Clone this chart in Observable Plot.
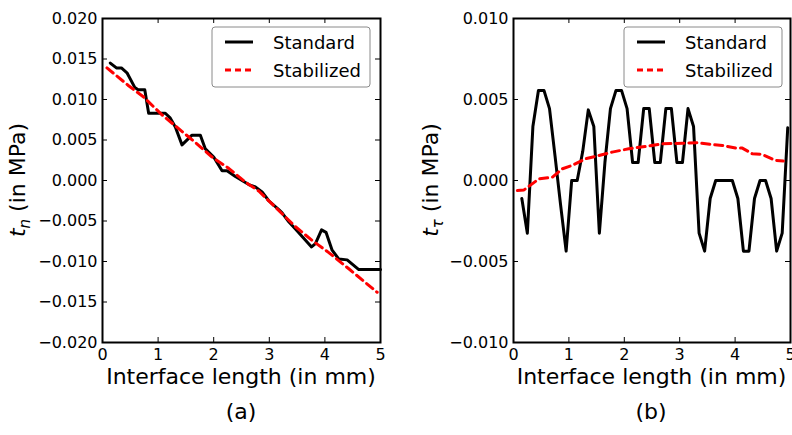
<!DOCTYPE html>
<html><head><meta charset="utf-8">
<script src="https://cdn.jsdelivr.net/npm/d3@7"></script>
<script src="https://cdn.jsdelivr.net/npm/@observablehq/plot@0.6"></script>
<style>
body{margin:0;background:#fff;font-family:"DejaVu Sans",sans-serif;}
#wrap{position:relative;width:792px;height:435px;overflow:hidden;background:#fff;}
.panel{position:absolute;top:0;}
.cap{position:absolute;top:399px;width:100px;text-align:center;font-size:22px;line-height:26px;font-family:"DejaVu Sans",sans-serif;color:#000;}
</style></head><body><div id="wrap"></div>
<script>
// ---------- data ----------
const xTicks = [0, 1, 2, 3, 4, 5];
const yTicksA = [0.020, 0.015, 0.010, 0.005, 0.000, -0.005, -0.010, -0.015, -0.020];
const yTicksB = [0.010, 0.005, 0.000, -0.005, -0.010];
const legendNames = ["Standard", "Stabilized"];
const xLabel = "Interface length (in mm)";
const captions = ["(a)", "(b)"];

// (a) normal traction t_n
const aStdX = [0.14, 0.25, 0.34, 0.44, 0.58, 0.64, 0.76, 0.83, 1.13, 1.22, 1.31, 1.43, 1.61, 1.76, 1.85, 2.00, 2.15, 2.24, 2.39, 2.63, 2.75, 2.87, 2.99, 3.17, 3.23, 3.35, 3.47, 3.76, 3.83, 3.94, 4.02, 4.13, 4.25, 4.40, 4.61, 5.00];
const aStdY = [0.0145, 0.0139, 0.0139, 0.0133, 0.0115, 0.0112, 0.0112, 0.0083, 0.0083, 0.0077, 0.0066, 0.0044, 0.0056, 0.0056, 0.0039, 0.0029, 0.0012, 0.0012, 0.0005, -0.0005, -0.0008, -0.0014, -0.0025, -0.0036, -0.0040, -0.0051, -0.0060, -0.0082, -0.0078, -0.0061, -0.0064, -0.0086, -0.0097, -0.0098, -0.0110, -0.0110];
const aStabX = [0.08, 0.47, 0.74, 1.07, 1.37, 1.67, 1.97, 2.27, 2.57, 2.81, 3.23, 3.47, 3.77, 4.07, 4.43, 4.94];
const aStabY = [0.0139, 0.0117, 0.0103, 0.0081, 0.0064, 0.0047, 0.0029, 0.0015, -0.0002, -0.0013, -0.0041, -0.0057, -0.0074, -0.0089, -0.0109, -0.0138];

// (b) tangential traction t_tau
const bStdX = [0.15, 0.25, 0.35, 0.45, 0.55, 0.65, 0.75, 0.85, 0.95, 1.05, 1.15, 1.25, 1.35, 1.45, 1.55, 1.65, 1.75, 1.85, 1.95, 2.05, 2.15, 2.25, 2.35, 2.45, 2.55, 2.65, 2.75, 2.85, 2.95, 3.05, 3.15, 3.25, 3.35, 3.45, 3.55, 3.65, 3.75, 3.85, 3.95, 4.05, 4.15, 4.25, 4.35, 4.45, 4.55, 4.65, 4.75, 4.85, 4.95];
const bStdY = [-0.00111, -0.00325, 0.00333, 0.00556, 0.00556, 0.00444, 0.0015, -0.0015, -0.00436, 0, 0, 0.0018, 0.00436, 0.00333, -0.00325, 0.00111, 0.00444, 0.00556, 0.00556, 0.00444, 0.00111, 0.00111, 0.00444, 0.00444, 0.00111, 0.00111, 0.00444, 0.00444, 0.00111, 0.00111, 0.00444, 0.00333, -0.00325, -0.00436, -0.00111, 0, 0, 0, 0, -0.00111, -0.00436, -0.00436, -0.00111, 0, 0, -0.00111, -0.00436, -0.00325, 0.00325];
const bStabX = [0.07, 0.19, 0.46, 0.70, 0.88, 1.06, 1.30, 1.54, 1.78, 2.08, 2.38, 2.68, 3.05, 3.32, 3.59, 3.77, 4.01, 4.13, 4.31, 4.49, 4.73, 4.87];
const bStabY = [-0.00062, -0.00058, 0.0001, 0.0002, 0.00072, 0.00093, 0.00134, 0.00154, 0.00175, 0.00196, 0.0021, 0.00226, 0.0023, 0.00233, 0.00222, 0.00216, 0.002, 0.002, 0.00165, 0.00161, 0.00124, 0.0012];

// ---------- drawing ----------
const zip = (xs, ys) => xs.map((x, i) => ({x, y: ys[i]}));
const W = 396, H = 390, MT = 18, MB = 48;
const FONT = "DejaVu Sans";

function panel({left, ml, mr, yDomain, yTicks, std, stab, sub, labelX, legendX}) {
  const pw = W - ml - mr, ph = H - MT - MB;
  const svgEl = Plot.plot({
    width: W, height: H, marginLeft: ml, marginRight: mr, marginTop: MT, marginBottom: MB,
    style: {fontFamily: FONT, fontSize: "16px", color: "black", background: "white", overflow: "visible"},
    x: {domain: [0, 5]},
    y: {domain: yDomain},
    marks: [
      Plot.line(std, {x: "x", y: "y", stroke: "black", strokeWidth: 3}),
      Plot.line(stab, {x: "x", y: "y", stroke: "#ff0000", strokeWidth: 3, strokeDasharray: "8,5"}),
      Plot.ruleX(xTicks, {insetTop: ph - 5, stroke: "black"}),
      Plot.ruleX(xTicks, {insetBottom: ph - 5, stroke: "black"}),
      Plot.ruleY(yTicks, {insetRight: pw - 5, stroke: "black"}),
      Plot.ruleY(yTicks, {insetLeft: pw - 5, stroke: "black"}),
      Plot.axisX(xTicks, {tickSize: 0, tickPadding: 6, label: null, fontSize: 16}),
      Plot.axisY(yTicks, {tickSize: 0, tickPadding: 5, label: null, fontSize: 16, tickFormat: d3.format(".3f")}),
      Plot.frame({stroke: "black", strokeWidth: 2})
    ]
  });
  const svg = d3.select(svgEl);
  // y label
  const t = svg.append("text")
    .attr("transform", `translate(${labelX},180) rotate(-90)`)
    .attr("text-anchor", "middle")
    .attr("fill", "black")
    .style("font-family", FONT).style("font-size", "22px");
  t.append("tspan").style("font-style", "italic").text("t");
  t.append("tspan").attr("dy", 5).style("font-style", "italic").style("font-size", "15px").text(sub);
  t.append("tspan").attr("dy", -5).text(" (in MPa)");
  // x label
  svg.append("text")
    .attr("x", ml + pw / 2).attr("y", 384)
    .attr("text-anchor", "middle").attr("fill", "black")
    .style("font-family", FONT).style("font-size", "22px")
    .text(xLabel);
  // legend
  const lg = svg.append("g").attr("text-anchor", "start");
  lg.append("rect").attr("x", legendX).attr("y", 27).attr("width", 158).attr("height", 60)
    .attr("rx", 3).attr("fill", "white").attr("stroke", "#8a8a8a").attr("stroke-width", 1);
  const rows = [{y: 42, stroke: "black", dash: null}, {y: 70, stroke: "#ff0000", dash: "6,4"}];
  rows.forEach((r, i) => {
    const ln = lg.append("line").attr("x1", legendX + 13).attr("x2", legendX + 41)
      .attr("y1", r.y).attr("y2", r.y).attr("stroke", r.stroke).attr("stroke-width", 3);
    if (r.dash) ln.attr("stroke-dasharray", r.dash);
    lg.append("text").attr("x", legendX + 61).attr("y", r.y + 6.5)
      .attr("text-anchor", "start")
      .attr("fill", "black").style("font-family", FONT).style("font-size", "18px")
      .text(legendNames[i]);
  });
  const div = document.createElement("div");
  div.className = "panel";
  div.style.left = left + "px";
  div.appendChild(svgEl);
  document.getElementById("wrap").appendChild(div);
}

panel({left: 0, ml: 102, mr: 16, yDomain: [-0.02, 0.02], yTicks: yTicksA,
  std: zip(aStdX, aStdY), stab: zip(aStabX, aStabY), sub: "n", labelX: 25, legendX: 212});
panel({left: 396, ml: 117, mr: 2, yDomain: [-0.01, 0.01], yTicks: yTicksB,
  std: zip(bStdX, bStdY), stab: zip(bStabX, bStabY), sub: "τ", labelX: 42, legendX: 228});

captions.forEach((c, i) => {
  const d = document.createElement("div");
  d.className = "cap";
  d.style.left = (i === 0 ? 241 : 651) - 50 + "px";
  d.textContent = c;
  document.getElementById("wrap").appendChild(d);
});
</script>
</body></html>
